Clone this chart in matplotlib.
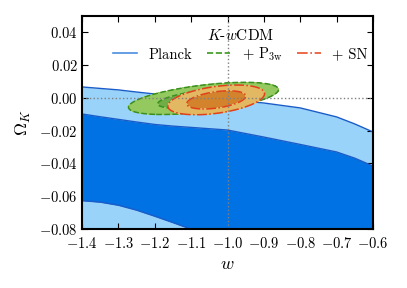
import numpy as np
import matplotlib
matplotlib.use('Agg')
import matplotlib.pyplot as plt
from matplotlib.lines import Line2D

plt.rcParams['font.family'] = 'serif'
plt.rcParams['font.serif'] = ['cmr10']
plt.rcParams['mathtext.fontset'] = 'cm'
plt.rcParams['axes.formatter.use_mathtext'] = True

# Planck K-wCDM bands
w_grid = [-1.4, -1.35, -1.3, -1.25, -1.2, -1.15, -1.1, -1.0, -0.9, -0.8, -0.7, -0.65, -0.6]
planck95_top = [0.0067, 0.0058, 0.0049, 0.0036, 0.0024, 0.0015, 0.0006, -0.0009, -0.0031,
                -0.0061, -0.0116, -0.0159, -0.0208]
planck68_top = [-0.0098, -0.0115, -0.0131, -0.0147, -0.0162, -0.0172, -0.0180, -0.0196, -0.0239,
                -0.0284, -0.0330, -0.0368, -0.0416]
planck68_bot = [-0.0627, -0.0636, -0.0655, -0.0685, -0.0722, -0.0761, -0.0801, -0.0850, -0.0900,
                -0.0950, -0.1000, -0.1020, -0.1040]
planck95_bot = [-0.12] * len(w_grid)

# Gaussian approximations of the P3w and SN posteriors
p3w_mean = (-1.066, -0.0003)
p3w_sigma = (0.083, 0.00395)
p3w_rho = 0.55
sn_mean = (-1.031, -0.0012)
sn_sigma = (0.0535, 0.00365)
sn_rho = 0.42
levels = [0.0, 2.30, 6.17]


def chi2(W, O, mean, sigma, rho):
    dw = (W - mean[0]) / sigma[0]
    do = (O - mean[1]) / sigma[1]
    return (dw**2 - 2 * rho * dw * do + do**2) / (1 - rho**2)


fig = plt.figure(figsize=(4.07, 2.88), dpi=100)
ax = fig.add_axes([0.2015, 0.2049, 0.715, 0.7395])

# planck
ax.fill_between(w_grid, planck95_bot, planck95_top, color='#99d3fa', lw=0, zorder=1)
ax.fill_between(w_grid, planck68_bot, planck68_top, color='#0072e3', lw=0, zorder=2)
for edge in [planck95_top, planck68_top, planck68_bot]:
    ax.plot(w_grid, edge, color='#1a5cc8', lw=1.0, zorder=3)

W, O = np.meshgrid(np.linspace(-1.45, -0.55, 500), np.linspace(-0.03, 0.03, 500))

c_p3w = chi2(W, O, p3w_mean, p3w_sigma, p3w_rho)
ax.contourf(W, O, c_p3w, levels=levels, colors=['#70ad47', '#94c960'], zorder=4)
ax.contour(W, O, c_p3w, levels=levels[1:], colors='#3a8f1f', linewidths=1.1,
           linestyles='--', zorder=5)

c_sn = chi2(W, O, sn_mean, sn_sigma, sn_rho)
ax.contourf(W, O, c_sn, levels=levels, colors=['#d2832b', '#e2b863'], zorder=6)
ax.contour(W, O, c_sn, levels=levels[1:], colors='#e0401c', linewidths=1.1,
           linestyles='-.', zorder=7)

# reference lines
ax.axvline(-1.0, color='gray', ls=':', lw=1.0, zorder=8)
ax.axhline(0.0, color='gray', ls=':', lw=1.0, zorder=8)

ax.set_xlim(-1.4, -0.6)
ax.set_ylim(-0.08, 0.05)
ax.set_xticks([-1.4, -1.3, -1.2, -1.1, -1.0, -0.9, -0.8, -0.7, -0.6])
ax.set_yticks([-0.08, -0.06, -0.04, -0.02, 0.0, 0.02, 0.04])
ax.xaxis.set_major_formatter(matplotlib.ticker.FuncFormatter(lambda v, p: '$%.1f$' % v))
ax.yaxis.set_major_formatter(matplotlib.ticker.FuncFormatter(lambda v, p: '$%.2f$' % v))
ax.tick_params(direction='in', top=True, right=True, length=4, width=0.8, labelsize=10.5)
ax.tick_params(axis='x', pad=5)
ax.tick_params(axis='y', pad=3)
for s in ax.spines.values():
    s.set_linewidth(1.5)
    s.set_zorder(10)

ax.set_xlabel('$w$', fontsize=13, labelpad=4)
ax.set_ylabel(r'$\Omega_K$', fontsize=13, labelpad=4)

handles = [Line2D([], [], color='#4a8ee0', lw=1.2),
           Line2D([], [], color='#3a9a1f', lw=1.2, ls='--'),
           Line2D([], [], color='#e8502a', lw=1.2, ls='-.')]
labels = ['Planck', r'+ P$_{3\mathrm{w}}$', '+ SN']
leg = ax.legend(handles, labels, loc='upper center', bbox_to_anchor=(0.545, 1.0), ncol=3,
                frameon=False, fontsize=10.5, title=r'$K$-$w$CDM', title_fontsize=11,
                handlelength=1.6, columnspacing=1.0, handletextpad=0.8, borderpad=0.3,
                labelspacing=0.2)
leg.set_zorder(11)

fig.savefig('out.png', dpi=100)
